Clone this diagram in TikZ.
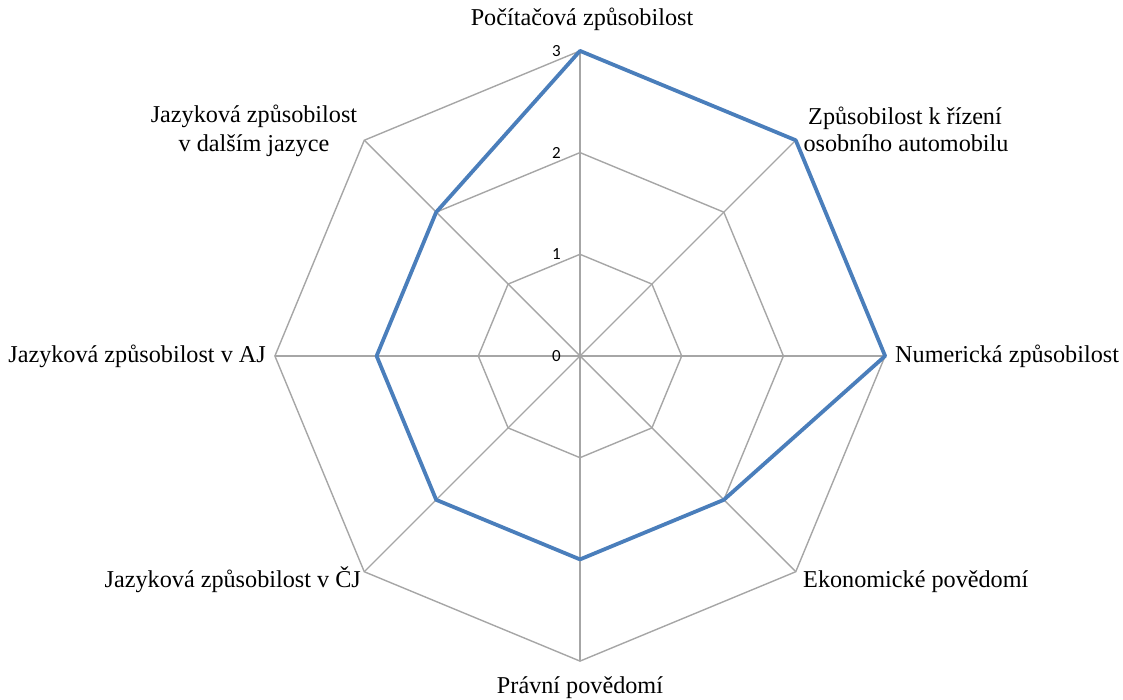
\documentclass[tikz,border=0pt]{standalone}
\usepackage{fontspec}
\setmainfont{Liberation Serif}
\newfontfamily\tickfont{Carlito}
\definecolor{gridgray}{HTML}{A6A6A6}
\definecolor{seriesblue}{HTML}{4A7EBB}
\begin{document}
\begin{tikzpicture}[x=1pt,y=1pt,
  grid/.style={draw=gridgray, line width=1.4pt},
  series/.style={draw=seriesblue, line width=3.8pt, line join=round},
  axislabel/.style={font=\fontsize{24.2}{27}\selectfont, inner sep=0pt},
  ticklabel/.style={font=\tickfont\fontsize{17}{17}\selectfont, anchor=east, inner sep=0pt}]
\useasboundingbox (0,0) rectangle (1123,699);

% radar grid: three rings and eight spokes around the centre
\begin{scope}[shift={(580,343)}]
  \def\unit{101.7}
  \foreach \k in {1,2,3} {
    \pgfmathsetmacro{\r}{\k*\unit}
    \draw[grid] (90:\r) -- (45:\r) -- (0:\r) -- (-45:\r) -- (-90:\r)
      -- (-135:\r) -- (180:\r) -- (135:\r) -- cycle;
  }
  \foreach \a in {90,45,0,-45,-90,-135,180,135}
    \draw[grid] (0,0) -- (\a:3*\unit);

  % scale values along the upper spoke
  \foreach \k in {0,1,2,3}
    \node[ticklabel] (t\k) at (-19, \k*\unit) {\k};

  % data series
  \draw[series] (90:3*\unit) -- (45:3*\unit) -- (0:3*\unit) -- (-45:2*\unit)
    -- (-90:2*\unit) -- (-135:2*\unit) -- (180:2*\unit) -- (135:2*\unit) -- cycle;
\end{scope}

% category labels
\node[axislabel, anchor=base] (pc) at (582,673) {Počítačová způsobilost};
\node[axislabel, anchor=base] (drv) at (905,574) {Způsobilost k řízení};
\node[axislabel, anchor=base] (drvb) at (906,547) {osobního automobilu};
\node[axislabel, anchor=base west] (num) at (895,336) {Numerická způsobilost};
\node[axislabel, anchor=base west] (eko) at (803,112) {Ekonomické povědomí};
\node[axislabel, anchor=base] (law) at (580,6) {Právní povědomí};
\node[axislabel, anchor=base east] (cj) at (361,112) {Jazyková způsobilost v ČJ};
\node[axislabel, anchor=base east] (aj) at (266,336) {Jazyková způsobilost v AJ};
\node[axislabel, anchor=base] (oth) at (254,576) {Jazyková způsobilost};
\node[axislabel, anchor=base] (othb) at (254,547) {v dalším jazyce};
\end{tikzpicture}
\end{document}
